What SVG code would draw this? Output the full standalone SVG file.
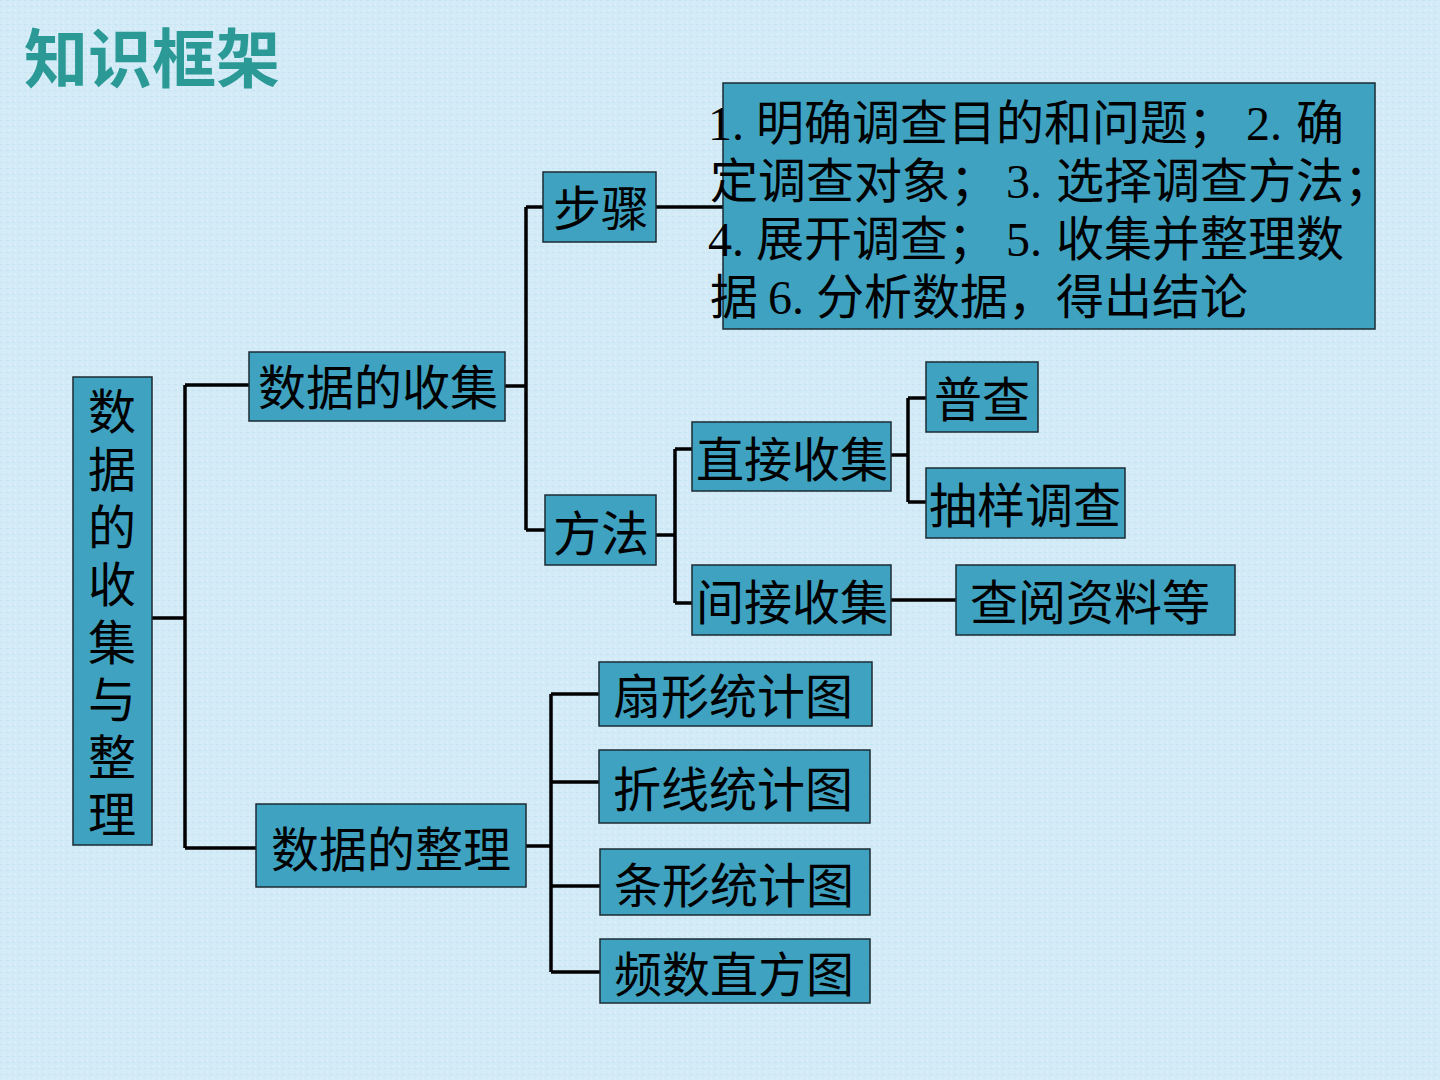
<svg xmlns="http://www.w3.org/2000/svg" width="1440" height="1080" viewBox="0 0 1440 1080">
<defs>
<style>
.bx{fill:#3ea2c0;stroke:#1c2b33;stroke-width:1.5}
.t{font-family:"Noto Sans CJK SC","Liberation Sans",sans-serif;font-size:48px;fill:#000}
.m{font-family:"Liberation Serif","Noto Sans CJK SC",serif;font-size:48px;fill:#000}
.c{fill:none;stroke:#000;stroke-width:3.5}
</style>
<pattern id="tex" width="6" height="6" patternUnits="userSpaceOnUse">
<rect width="6" height="6" fill="#d3ebf7"/>
<rect x="0" y="0" width="3" height="1" fill="#c6e3f2"/>
<rect x="3" y="3" width="1" height="3" fill="#deeffa"/>
</pattern>
</defs>
<rect width="1440" height="1080" fill="url(#tex)"/>
<text x="24" y="82" font-family="Noto Sans CJK SC, sans-serif" font-weight="bold" font-size="64" fill="#2b9a96">知识框架</text>

<g id="connectors">
<path class="c" d="M152,618H185M185,385V848M185,385H249M185,848H256"/>
<path class="c" d="M505,386H526M526,207V530M526,207H543M526,530H545"/>
<path class="c" d="M656,207H723"/>
<path class="c" d="M656,535H675M675,449V603M675,449H692M675,603H692"/>
<path class="c" d="M891,455H908M908,398V502M908,398H926M908,502H926"/>
<path class="c" d="M891,600H956"/>
<path class="c" d="M526,846H551M551,694V972M551,694H599M551,782H599M551,886H600M551,972H600"/>
</g>

<g id="root">
<rect class="bx" x="73" y="377" width="79" height="468"/>
<text class="t" text-anchor="middle" font-size="46">
<tspan x="112" y="429">数</tspan><tspan x="112" y="487">据</tspan><tspan x="112" y="545">的</tspan><tspan x="112" y="602">收</tspan><tspan x="112" y="660">集</tspan><tspan x="112" y="717">与</tspan><tspan x="112" y="775">整</tspan><tspan x="112" y="832">理</tspan>
</text>
</g>

<g id="collect">
<rect class="bx" x="249" y="352" width="256" height="69"/>
<text class="t" x="258" y="405">数据的收集</text>
</g>

<g id="organize">
<rect class="bx" x="256" y="804" width="270" height="83"/>
<text class="t" x="271" y="867">数据的整理</text>
</g>

<g id="steps">
<rect class="bx" x="543" y="172" width="113" height="70"/>
<text class="t" x="553" y="226">步骤</text>
</g>

<g id="stepsText">
<rect class="bx" x="723" y="83" width="652" height="246"/>
<text class="m" y="140"><tspan x="708">1. </tspan><tspan x="756">明确调查目的和问题；</tspan><tspan x="1246">2. </tspan><tspan x="1296">确</tspan></text>
<text class="m" y="198"><tspan x="710">定调查对象；</tspan><tspan x="1006">3. </tspan><tspan x="1056">选择调查方法；</tspan></text>
<text class="m" y="256"><tspan x="708">4. </tspan><tspan x="756">展开调查；</tspan><tspan x="1006">5. </tspan><tspan x="1056">收集并整理数</tspan></text>
<text class="m" y="314"><tspan x="710">据</tspan><tspan x="768">6. </tspan><tspan x="816">分析数据，</tspan><tspan x="1056">得出结论</tspan></text>
</g>

<g id="method">
<rect class="bx" x="545" y="495" width="111" height="70"/>
<text class="t" x="553" y="551">方法</text>
</g>

<g id="direct">
<rect class="bx" x="692" y="422" width="199" height="69"/>
<text class="t" x="696" y="477">直接收集</text>
</g>

<g id="census">
<rect class="bx" x="926" y="362" width="112" height="70"/>
<text class="t" x="934" y="417">普查</text>
</g>

<g id="sample">
<rect class="bx" x="926" y="468" width="199" height="70"/>
<text class="t" x="929" y="523">抽样调查</text>
</g>

<g id="indirect">
<rect class="bx" x="692" y="565" width="199" height="70"/>
<text class="t" x="696" y="620">间接收集</text>
</g>

<g id="lookup">
<rect class="bx" x="956" y="565" width="279" height="70"/>
<text class="t" x="970" y="620">查阅资料等</text>
</g>

<g id="pie">
<rect class="bx" x="599" y="662" width="273" height="64"/>
<text class="t" x="613" y="714">扇形统计图</text>
</g>

<g id="line">
<rect class="bx" x="599" y="750" width="271" height="73"/>
<text class="t" x="613" y="807">折线统计图</text>
</g>

<g id="bar">
<rect class="bx" x="600" y="849" width="270" height="66"/>
<text class="t" x="614" y="903">条形统计图</text>
</g>

<g id="hist">
<rect class="bx" x="600" y="939" width="270" height="64"/>
<text class="t" x="614" y="992">频数直方图</text>
</g>
</svg>
